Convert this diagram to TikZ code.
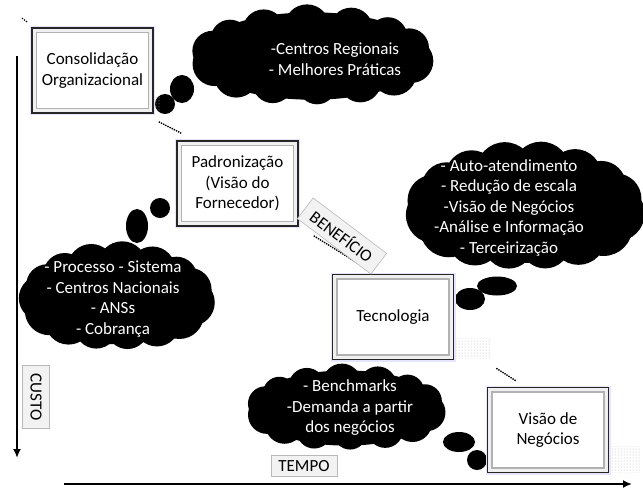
\documentclass[tikz,border=0pt]{standalone}
\usepackage{fontspec}
\setmainfont{Carlito}
\usetikzlibrary{patterns,calc,arrows.meta}
% puffy cloud: center x, center y, half width, half height, number of puffs
\newcommand{\puffcloud}[5]{%
  \pgfmathsetmacro\pcr{0.42*#4}%
  \pgfmathsetmacro\pcA{#3-\pcr}%
  \pgfmathsetmacro\pcB{#4-\pcr}%
  \pgfmathsetmacro\pcEA{#3-0.3*\pcr}%
  \pgfmathsetmacro\pcEB{#4-0.3*\pcr}%
  \pgfmathsetmacro\pcstep{360/#5}%
  \fill (#1,#2) ellipse [x radius=\pcEA pt, y radius=\pcEB pt];
  \foreach \k in {1,...,#5}{%
    \pgfmathsetmacro\pct{10+\k*\pcstep}%
    \pgfmathsetmacro\pcrr{\pcr*(1+0.08*sin(3*\pct))}%
    \fill ({#1+\pcA*cos(\pct)},{#2+\pcB*sin(\pct)}) circle [radius=\pcrr pt];
  }%
}
\begin{document}
\begin{tikzpicture}[x=1pt,y=-1pt,
  every node/.style={font=\fontsize{17}{20.5}\selectfont},
  stagebox/.style={rectangle, minimum width=121pt, minimum height=85pt, align=center,
    draw=black!85, line width=1.6pt, fill=gray!12, inner sep=2pt,
    preaction={draw=blue!10, line width=4pt},
    path picture={\draw[gray!60, line width=1.2pt, fill=white]
      ([shift={(4.5pt,-4.5pt)}]path picture bounding box.north west) rectangle
      ([shift={(-4.5pt,4.5pt)}]path picture bounding box.south east);}},
  cloudtext/.style={text=white, align=center, inner sep=0pt},
  tag/.style={draw=gray!55, fill=gray!10, line width=0.6pt, inner sep=2pt},
  link/.style={densely dotted, line width=1.4pt, black},
  axis/.style={line width=2pt, -{Latex[length=9pt,width=8pt]}},
  shade/.style={pattern=dots, pattern color=gray!60}
]
\useasboundingbox (0,0) rectangle (643,488);

% clouds
\puffcloud{312}{56}{122}{50}{14}
\puffcloud{525}{207}{120}{64}{16}
\puffcloud{117}{297}{98}{54}{15}
\puffcloud{346}{408}{100}{43}{14}

% bubble tails
\fill (165,104) circle [radius=10pt];
\fill (182,89) ellipse [x radius=12pt, y radius=14pt];
\fill (497,286) ellipse [x radius=20pt, y radius=9.5pt];
\fill (470,299) ellipse [x radius=15pt, y radius=11pt];
\fill (137,226) ellipse [x radius=11pt, y radius=17pt];
\fill (160,208) circle [radius=10pt];
\fill (459,442) ellipse [x radius=16pt, y radius=10pt];
\fill (477,460) circle [radius=10pt];

% cloud texts
\node[cloudtext] (t1) at (335,59) {-Centros Regionais\\- Melhores Práticas};
\node[cloudtext] (t2) at (509,208) {- Auto-atendimento\\- Redução de escala\\-Visão de Negócios\\-Análise e Informação\\- Terceirização};
\node[cloudtext] (t3) at (113,299) {- Processo - Sistema\\- Centros Nacionais\\- ANSs\\- Cobrança};
\node[cloudtext] (t4) at (350,408) {- Benchmarks\\-Demanda a partir\\dos negócios};

% dithered shadows
\fill[shade] (453,338) rectangle (490,358);
\fill[shade] (609,446) rectangle (640,472);
\fill[shade] (153,96) rectangle (160,110);

% stage boxes
\node[stagebox] (cons) at (92.5,70.5) {Consolidação\\Organizacional};
\node[stagebox] (pad) at (237.5,183.5) {Padronização\\(Visão do\\Fornecedor)};
\node[stagebox] (tec) at (393,317) {Tecnologia};
\node[stagebox] (vis) at (548,430) {Visão de\\Negócios};

% tiny dotted mark at the top left
\fill (22.5,18.5) circle [radius=0.9pt];
\fill (24.5,20) circle [radius=0.9pt];
\fill (26.5,21.5) circle [radius=0.9pt];

% dotted links
\draw[link] ($(cons.south east)+(5,8)$) -- ($(pad.north west)+(5,-7)$);
\draw[link] ($(pad.south east)+(15,9)$) -- ($(tec.north west)+(30,-8)$);
\draw[link] ($(tec.south east)+(42,8)$) -- ($(vis.north west)+(29,-6)$);

% benefit tag
\node[tag, rotate=-37, minimum width=92pt, minimum height=26pt] (ben) at (342,236) {BENEFÍCIO};

% axes
\coordinate (ytop) at (17,56);
\coordinate (ybot) at (17,458);
\coordinate (xl) at (64,484);
\coordinate (xr) at (632,484);
\draw[axis] (ytop) -- (ybot);
\draw[axis] (xl) -- (xr);
\node[tag, rotate=-90, minimum width=63pt, minimum height=27pt] (custo) at (36,397) {CUSTO};
\node[tag, minimum width=66pt, minimum height=21pt] (tempo) at (304,466) {TEMPO};
\end{tikzpicture}
\end{document}
